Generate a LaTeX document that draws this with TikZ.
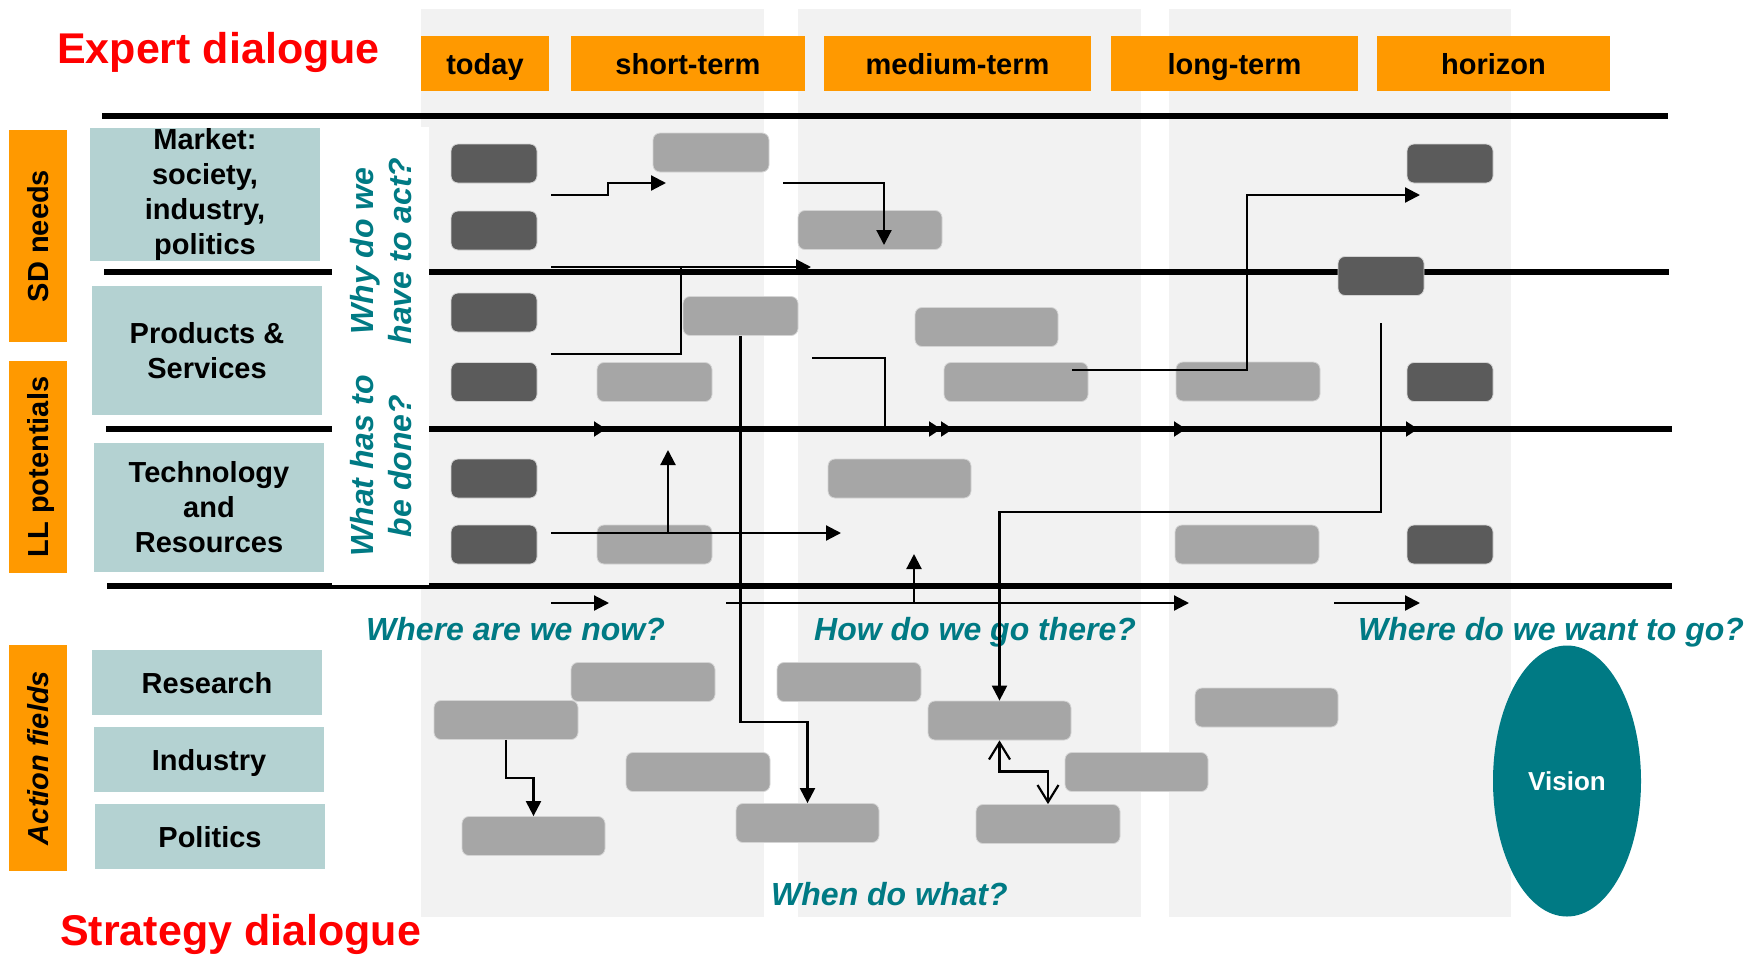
\documentclass[tikz,border=0pt]{standalone}
\usepackage{fontspec}
\setmainfont{Liberation Sans}
\usetikzlibrary{arrows.meta,shapes.geometric}

\definecolor{hdrorange}{RGB}{255,153,0}
\definecolor{rowteal}{RGB}{180,210,210}
\definecolor{askteal}{RGB}{0,122,132}
\definecolor{colgray}{RGB}{242,242,242}
\definecolor{bardark}{RGB}{91,91,91}
\definecolor{barlight}{RGB}{166,166,166}
\definecolor{baredge}{RGB}{212,212,212}

\newcommand\mapfont{\fontsize{29}{35}\selectfont\bfseries}
\newcommand\askfont{\fontsize{32}{38}\selectfont\bfseries\itshape}

\tikzset{
  dialogue/.style={anchor=base west, inner sep=0pt, text=red,
    font=\fontsize{43}{50}\selectfont\bfseries},
  header/.style={fill=hdrorange, inner sep=0pt, minimum height=55pt,
    text height=21pt, text depth=0pt, font=\mapfont},
  side/.style={fill=hdrorange, rotate=90, inner sep=0pt, minimum height=58pt,
    text height=21pt, text depth=0pt, font=\mapfont},
  field/.style={fill=rowteal, inner sep=0pt, minimum width=230pt,
    align=center, font=\mapfont},
  oneline/.style={text height=21pt, text depth=0pt},
  ask/.style={anchor=base west, inner sep=0pt, text=askteal, font=\askfont},
  vask/.style={rotate=90, inner sep=0pt, align=center, text=askteal, font=\askfont},
  darkbox/.style={fill=bardark, draw=baredge, line width=0.8pt, rounded corners=7pt,
    minimum width=86pt, minimum height=39pt, inner sep=0pt},
  lightbox/.style={fill=barlight, draw=baredge, line width=0.8pt, rounded corners=7pt,
    minimum height=39pt, inner sep=0pt},
  rule/.style={line width=5.5pt},
  ruletip/.style={line width=2pt, -{Triangle[length=12pt,width=15pt]}},
  wire/.style={line width=2.2pt},
  conn/.style={wire, -{Triangle[length=15pt,width=15pt]}},
  dblconn/.style={wire, -{Triangle[length=12pt,width=15pt] Triangle[length=12pt,width=15pt]}},
  biconn/.style={wire, {Straight Barb[length=17pt,width=21pt]}-{Straight Barb[length=17pt,width=21pt]}},
  vision/.style={ellipse, fill=askteal, text=white, inner sep=0pt,
    minimum width=148pt, minimum height=271pt, font=\fontsize{26}{30}\selectfont\bfseries}
}

\begin{document}
\begin{tikzpicture}[x=1pt, y=-1pt]
    % Fix the canvas
    \useasboundingbox (0,0) rectangle (1762,954);

    % Draw time columns
    \foreach \xa/\xb in {421/764, 798/1141, 1169/1511}
        \fill[colgray] (\xa,9) rectangle (\xb,917);

    % Add dialogue titles
    \node[dialogue] (expert) at (57,63) {Expert dialogue};
    \node[dialogue] (strategy) at (60,945) {Strategy dialogue};

    % Add time headers
    \node[header, minimum width=128pt] (today) at (485,63.5) {today};
    \node[header, minimum width=234pt] (short) at (688,63.5) {short-term};
    \node[header, minimum width=267pt] (medium) at (957.5,63.5) {medium-term};
    \node[header, minimum width=247pt] (long) at (1234.5,63.5) {long-term};
    \node[header, minimum width=233pt] (horizon) at (1493.5,63.5) {horizon};

    % Draw layer rules
    \foreach \y/\xa/\xb in {116/102/1668, 272/104/1669, 429/106/1672, 586/107/1672}
        \draw[rule] (\xa,\y) -- (\xb,\y);
    \foreach \x in {606,1186,1418}
        \draw[ruletip] (\x-20,429) -- (\x,429);

    % White panel behind the questions
    \fill[white] (332,127) rectangle (429,585);

    % Add layer labels
    \node[side, minimum width=212pt] (sdneeds) at (38,236) {SD needs};
    \node[side, minimum width=212pt] (llpot) at (38,467) {LL potentials};
    \node[side, minimum width=226pt, font=\mapfont\itshape] (actfields) at (38,758) {Action fields};

    % Add row fields
    \node[field, minimum height=129pt] (market) at (205,194.5) {Market:\\society,\\industry,\\politics};
    \node[field, minimum height=129pt] (products) at (207,350.5) {Products \&\\Services};
    \node[field, minimum height=129pt] (techres) at (209,507.5) {Technology\\and\\Resources};
    \node[field, oneline, minimum height=65pt] (research) at (207,682.5) {Research};
    \node[field, oneline, minimum height=65pt] (industry) at (209,759.5) {Industry};
    \node[field, oneline, minimum height=65pt] (politics) at (210,836.5) {Politics};

    % Add questions
    \node[vask] (whyact) at (381,251) {Why do we\\have to act?};
    \node[vask] (whatdone) at (381,466) {What has to\\be done?};
    \node[ask] (wherenow) at (366,640) {Where are we now?};
    \node[ask] (howgo) at (814,640) {How do we go there?};
    \node[ask] (wherego) at (1358,640) {Where do we want to go?};
    \node[ask] (whenwhat) at (771,905) {When do what?};

    % Define the bars in lists
    \def\darklist{
        now1/494/163.5, now2/494/230.5, now3/494/312.5, now4/494/382,
        now5/494/478.5, now6/494/544.5, goal1/1450/163.5, goal2/1450/382,
        goal3/1450/544.5, mid/1381/276
    }
    \def\lightlist{
        bar1/711/152.5/116, bar2/870/230/144, bar3/740.5/316/115,
        bar4/654.5/382/115, bar5/899.5/478.5/143, bar6/654.5/544.5/115,
        bar7/986.5/327/143, bar8/1016/382/144, bar9/1248/381.5/144,
        bar10/1247/544.5/144,
        act1/643/682/144, act2/506/720/144, act3/698/772/144,
        act4/533.5/836/143, act5/807.5/823/143, act6/849/682/144,
        act7/999.5/720.5/143, act8/1136.5/772/143, act9/1048/824/144,
        act10/1266.5/707.5/143
    }

    % Loop through the lists and place the bars
    \foreach \name/\x/\y in \darklist
        \node[darkbox] (\name) at (\x,\y) {};
    \foreach \name/\x/\y/\w in \lightlist
        \node[lightbox, minimum width=\w pt] (\name) at (\x,\y) {};

    % Vision
    \node[vision] (vision) at (1567,781) {Vision};

    % Free ends of the connectors
    \coordinate (c1s) at (551,195);  \coordinate (c1e) at (666,183);
    \coordinate (c2s) at (783,183);  \coordinate (c2e) at (884,245);
    \coordinate (c3s) at (551,267);  \coordinate (c3e) at (811,267);
    \coordinate (c4s) at (551,354);  \coordinate (c4e) at (681,267);
    \coordinate (c6s) at (668,533);  \coordinate (c6e) at (668,450);
    \coordinate (c7s) at (551,533);  \coordinate (c7e) at (841,533);
    \coordinate (c8s) at (812,358);  \coordinate (c8e) at (953,429);
    \coordinate (c9s) at (1072,370); \coordinate (c9e) at (1420,195);
    \coordinate (c10s) at (1381,323);
    \coordinate (c13s) at (551,603); \coordinate (c13e) at (609,603);
    \coordinate (c14s) at (726,603); \coordinate (c14e) at (1189,603);
    \coordinate (c15s) at (914,603); \coordinate (c15e) at (914,554);
    \coordinate (c16s) at (1334,603); \coordinate (c16e) at (1420,603);

    % Draw connectors
    \draw[conn] (c1s) -- ++(57,0) |- (c1e);
    \draw[conn] (c2s) -| (c2e);
    \draw[conn] (c3s) -- (c3e);
    \draw[wire] (c4s) -| (c4e);
    \draw[conn] (bar3.south) -- ++(0,386) -| (act5.north);
    \draw[conn] (c6s) -- (c6e);
    \draw[conn] (c7s) -- (c7e);
    \draw[dblconn] (c8s) -- ++(73,0) |- (c8e);
    \draw[conn] (c9s) -- ++(175,0) |- (c9e);
    \draw[conn] (c10s) -- ++(0,189) -| (act7.north);
    \draw[conn] (act2.south) -- ++(0,38) -| (act4.north);
    \draw[biconn] (act7.south) -- ++(0,31) -| (act9.north);
    \draw[conn] (c13s) -- (c13e);
    \draw[conn] (c14s) -- (c14e);
    \draw[conn] (c15s) -- (c15e);
    \draw[conn] (c16s) -- (c16e);
\end{tikzpicture}
\end{document}
